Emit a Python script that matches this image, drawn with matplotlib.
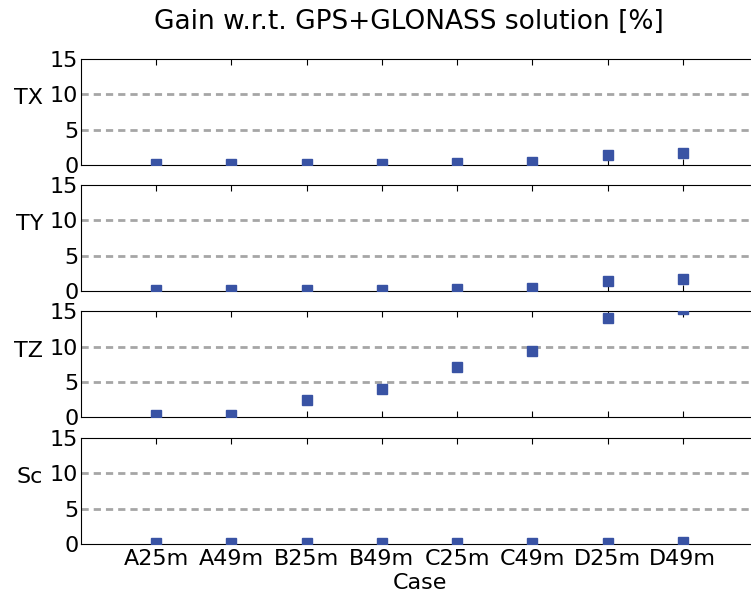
import numpy as np
import matplotlib
matplotlib.use("Agg")
import matplotlib.pyplot as plt

cases = ["A25m", "A49m", "B25m", "B49m", "C25m", "C49m", "D25m", "D49m"]
components = ["TX", "TY", "TZ", "Sc"]
gain_tx = [0.1, 0.1, 0.15, 0.2, 0.3, 0.45, 1.4, 1.75]
gain_ty = [0.1, 0.1, 0.1, 0.15, 0.25, 0.4, 1.35, 1.7]
gain_tz = [0.3, 0.4, 2.5, 4.1, 7.1, 9.4, 14.1, 15.3]
gain_sc = [0.1, 0.1, 0.1, 0.1, 0.1, 0.1, 0.2, 0.25]
yticks = [0, 5, 10, 15]


def main():
    plt.rcParams['font.family'] = ['DejaVu Sans']
    fig = plt.figure(figsize=(7.51, 5.96), dpi=100)

    x = np.arange(1, len(cases) + 1)
    data = [gain_tx, gain_ty, gain_tz, gain_sc]
    bottoms = [0.7232, 0.5117, 0.2995, 0.0872]
    h = 0.1779

    for i in range(4):
        ax = fig.add_axes([0.1079, bottoms[i], 0.9015, h])
        # dashed reference levels
        for lev in (5, 10):
            ax.axhline(lev, color='#a6a6a6', linestyle=(0, (2.6, 1.8)),
                       linewidth=2.0, zorder=1)
        ax.plot(x, data[i], 's', color='#3953a4', markersize=7,
                markeredgecolor='#3953a4', zorder=3)
        ax.set_xlim(0, 9)
        ax.set_ylim(0, 15)
        ax.set_yticks(yticks)
        ax.set_xticks(x)
        ax.tick_params(axis='x', direction='in', top=True, length=4,
                       labelsize=16)
        ax.tick_params(axis='y', length=0, labelsize=16, pad=2)
        ax.set_ylabel(components[i], rotation=0, fontsize=16,
                      ha='right', va='center')
        ax.yaxis.set_label_coords(-0.056, 0.63)
        ax.spines['right'].set_visible(False)
        if i < 3:
            ax.set_xticklabels([])
        else:
            ax.set_xticklabels(cases)
            ax.set_xlabel('Case', fontsize=16, labelpad=3)

    fig.text(409 / 751, 1 - 22 / 596, 'Gain w.r.t. GPS+GLONASS solution [%]',
             fontsize=19, ha='center', va='center')
    fig.savefig('out.png', dpi=100)


if __name__ == "__main__":
    main()
